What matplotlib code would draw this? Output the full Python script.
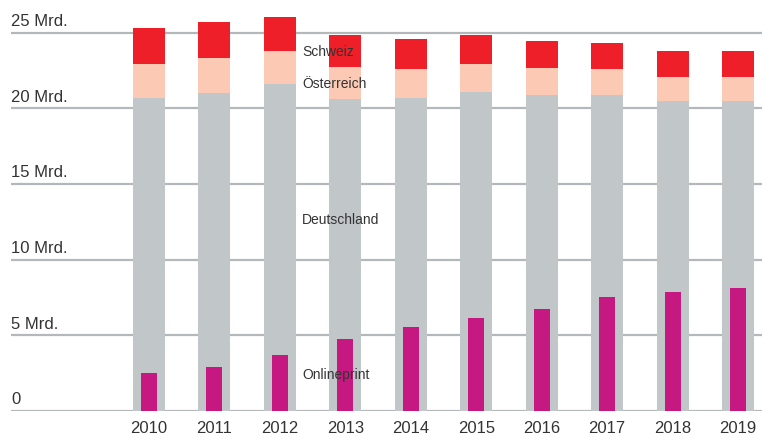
import matplotlib
matplotlib.use('Agg')
import matplotlib.pyplot as plt
import numpy as np

years = ['2010', '2011', '2012', '2013', '2014', '2015', '2016', '2017', '2018', '2019']
deutschland = [20.68, 21.01, 21.60, 20.61, 20.68, 21.08, 20.88, 20.88, 20.48, 20.48]
oesterreich_top = [22.93, 23.33, 23.79, 22.73, 22.60, 22.93, 22.66, 22.60, 22.07, 22.07]
schweiz_top = [25.31, 25.71, 26.04, 24.85, 24.58, 24.85, 24.45, 24.32, 23.79, 23.79]
onlineprint = [2.49, 2.89, 3.68, 4.74, 5.54, 6.13, 6.73, 7.52, 7.85, 8.12]
yticks = [0, 5, 10, 15, 20, 25]
ytick_labels = ['0', '5 Mrd.', '10 Mrd.', '15 Mrd.', '20 Mrd.', '25 Mrd.']

oesterreich = np.array(oesterreich_top) - np.array(deutschland)
schweiz = np.array(schweiz_top) - np.array(oesterreich_top)

plt.rcParams['font.family'] = ['Liberation Sans', 'DejaVu Sans']
text_col = '#333333'
grid_col = '#b4b8bb'

W, H = 762, 439
fig = plt.figure(figsize=(W / 100, H / 100), dpi=100)
ax = fig.add_axes([11 / W, (H - 411.7) / H, 1 - 11 / W, 411.7 / H])

x = np.arange(len(years))
bw = 32 / 65.44
ow = 16 / 65.44

for y in yticks:
    ax.axhline(y, color=grid_col, lw=1.6, zorder=1)

ax.bar(x, deutschland, width=bw, color='#c1c6c8', zorder=2)
ax.bar(x, oesterreich, bottom=deutschland, width=bw, color='#fbc9b4', zorder=2)
ax.bar(x, schweiz, bottom=oesterreich_top, width=bw, color='#ee1f28', zorder=2)
ax.bar(x, onlineprint, width=ow, color='#c51880', zorder=3)

ax.set_xlim((11 - 149) / 65.44, (762 - 149) / 65.44)
ax.set_ylim(0, 411.7 / 15.12)

for y, lab in zip(yticks, ytick_labels):
    ax.text(0, y + 0.3, lab, transform=ax.get_yaxis_transform(), ha='left', va='bottom',
            fontsize=12, color=text_col)

ax.set_xticks(x)
ax.set_xticklabels(years, fontsize=12, color=text_col)
ax.tick_params(axis='x', length=0, pad=7)
ax.set_yticks([])
for s in ax.spines.values():
    s.set_visible(False)

lx = 3 - 0.66
ax.text(lx, 23.79, 'Schweiz', fontsize=10, color=text_col, va='center', zorder=4)
ax.text(lx, 21.67, 'Österreich', fontsize=10, color=text_col, va='center', zorder=4)
ax.text(lx, 12.68, 'Deutschland', fontsize=10, color=text_col, va='center', zorder=4)
ax.text(lx, 2.43, 'Onlineprint', fontsize=10, color=text_col, va='center', zorder=4)

fig.savefig('out.png', dpi=100)
